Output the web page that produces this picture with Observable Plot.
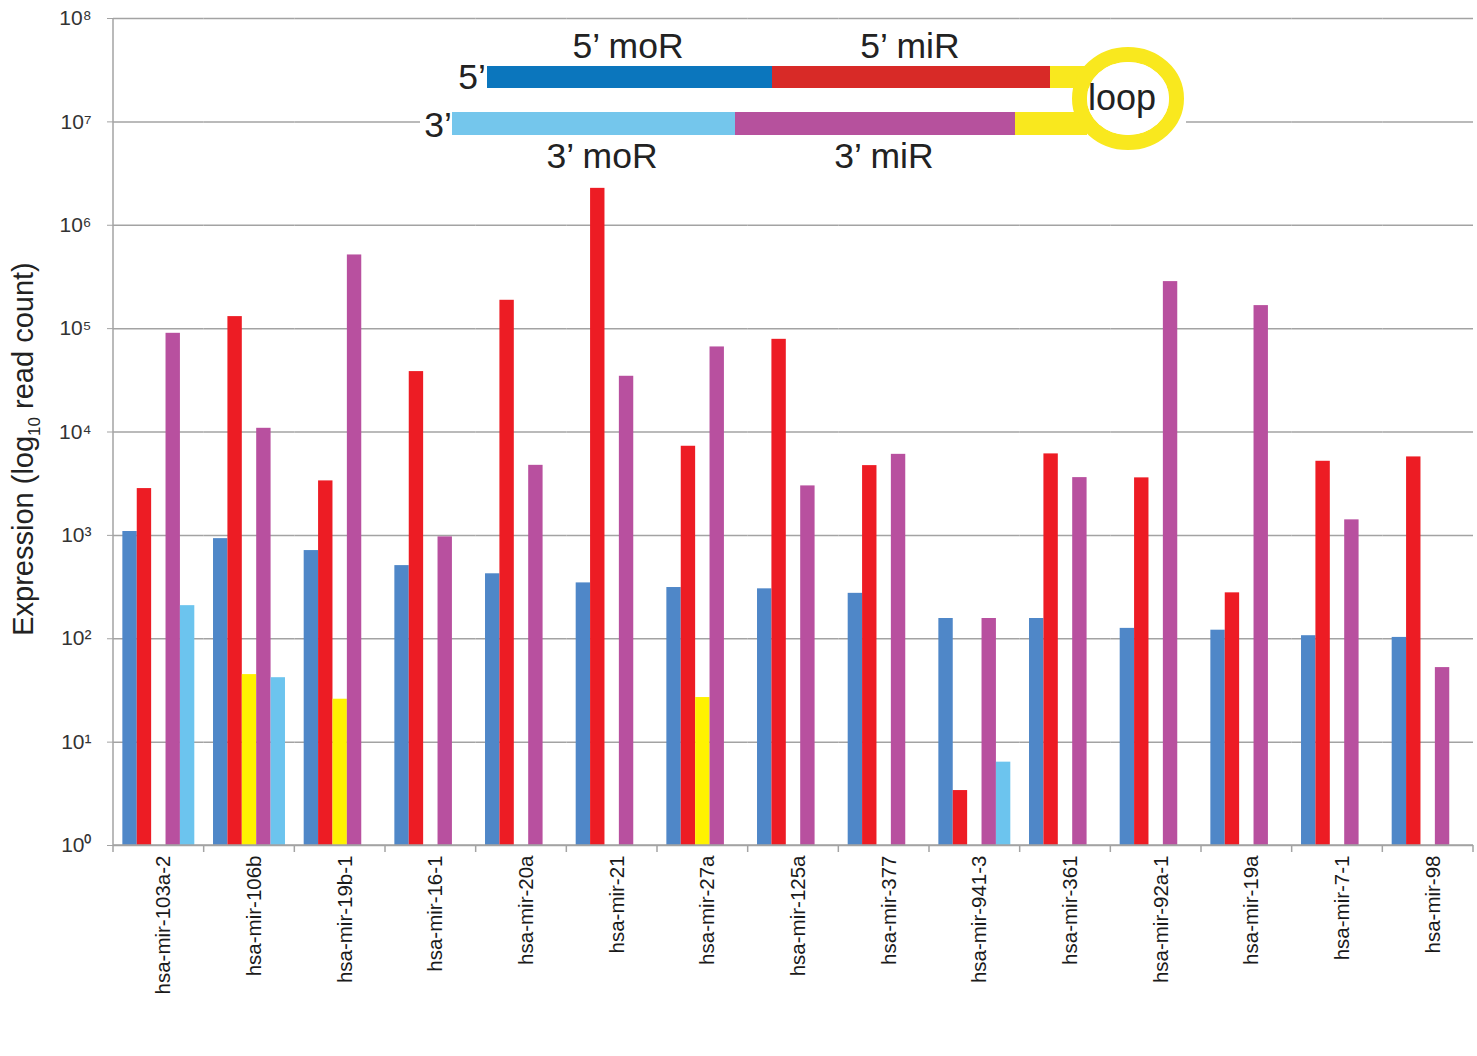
<!DOCTYPE html>
<html>
<head>
<meta charset="utf-8">
<script src="https://cdn.jsdelivr.net/npm/d3@7"></script>
<script src="https://cdn.jsdelivr.net/npm/@observablehq/plot@0.6"></script>
<style>
  html, body { margin: 0; padding: 0; background: #fff; }
  #chart { position: relative; width: 1477px; height: 1056px; }
</style>
</head>
<body>
<div id="chart"></div>
<script>
const mirnas = ["hsa-mir-103a-2","hsa-mir-106b","hsa-mir-19b-1","hsa-mir-16-1","hsa-mir-20a","hsa-mir-21","hsa-mir-27a","hsa-mir-125a","hsa-mir-377","hsa-mir-941-3","hsa-mir-361","hsa-mir-92a-1","hsa-mir-19a","hsa-mir-7-1","hsa-mir-98"];
const seriesNames = ["5\u2019 moR","5\u2019 miR","loop","3\u2019 miR","3\u2019 moR"];
const seriesColors = ["#4f87c8","#ed1c24","#fff200","#b8509f","#6cc4ee"];
const moR5 = [1090, 930, 713, 510, 425, 347, 313, 304, 275, 157, 157, 126, 121, 107, 103];
const miR5 = [2836, 130700, 3365, 38400, 188000, 2275000, 7280, 78800, 4730, 3.4, 6140, 3600, 278, 5210, 5740];
const loopVals = [null, 45, 26, null, null, null, 27, null, null, null, null, null, null, null, null];
const miR3 = [90100, 10860, 516000, 967, 4760, 34600, 66500, 3010, 6080, 157, 3620, 285000, 167000, 1413, 52.6];
const moR3 = [209, 42, null, null, null, null, null, null, null, 6.4, null, null, null, null, null];
const yTicks = [1, 10, 100, 1e3, 1e4, 1e5, 1e6, 1e7, 1e8];
const supers = ["\u2070","\u00b9","\u00b2","\u00b3","\u2074","\u2075","\u2076","\u2077","\u2078"];

const seriesValues = [moR5, miR5, loopVals, miR3, moR3];
const rows = [];
mirnas.forEach((m, i) => {
  seriesNames.forEach((s, j) => {
    const v = seriesValues[j][i];
    if (v != null) rows.push({mirna: m, series: s, value: v});
  });
});

const FONT = "'Liberation Sans', Arial, Helvetica, sans-serif";
const gridColor = "#a3a3a3";

const plot = Plot.plot({
  width: 1477,
  height: 1056,
  marginTop: 18,
  marginBottom: 211,
  marginLeft: 113,
  marginRight: 4,
  style: {fontFamily: FONT, background: "#fff", color: "#222"},
  fx: {domain: mirnas, padding: 0, round: false, label: null},
  x: {domain: seriesNames, paddingInner: 0, paddingOuter: 0.65, round: false, axis: null},
  y: {type: "log", domain: [1, 1e8], axis: null},
  color: {domain: seriesNames, range: seriesColors},
  marks: [
    Plot.ruleY(yTicks, {y: d => d, stroke: gridColor, strokeWidth: 1.5}),
    Plot.barY(rows, {fx: "mirna", x: "series", y1: () => 1, y2: "value", fill: "series"}),
    Plot.axisFx({anchor: "bottom", tickRotate: -90, tickSize: 0, tickPadding: 10, fontSize: 20.5, label: null, fill: "#1a1a1a", dx: 5}),
    Plot.axisY({ticks: yTicks, tickFormat: d => "10" + supers[Math.round(Math.log10(d))], tickSize: 6, tickPadding: 16, fontSize: 21, label: null, stroke: gridColor, fill: "#333"})
  ]
});

document.getElementById("chart").appendChild(plot);

const svg = d3.select(plot);
const xs = plot.scale("fx");
const ys = plot.scale("y");
const y0 = ys.apply(1), yTop = ys.apply(1e8);
const left = xs.apply(mirnas[0]);
const step = xs.step || xs.bandwidth;
const right = left + step * mirnas.length;

const ax = svg.append("g").attr("stroke", gridColor).attr("stroke-width", 1.5);
ax.append("line").attr("x1", left).attr("x2", left).attr("y1", yTop).attr("y2", y0);
ax.append("line").attr("x1", left).attr("x2", right).attr("y1", y0).attr("y2", y0);
for (let i = 0; i <= mirnas.length; i++) {
  const xx = left + step * i;
  ax.append("line").attr("x1", xx).attr("x2", xx).attr("y1", y0).attr("y2", y0 + 7);
}

// y axis title with subscript
const t = svg.append("text")
  .attr("transform", `translate(33, 449) rotate(-90)`)
  .attr("text-anchor", "middle")
  .attr("font-family", FONT)
  .attr("font-size", 29)
  .attr("fill", "#222");
t.append("tspan").text("Expression (log");
t.append("tspan").attr("font-size", 17).attr("dy", 7).text("10");
t.append("tspan").attr("dy", -7).text(" read count)");

// Inset schematic of the hairpin
const g = svg.append("g").attr("font-family", FONT).attr("fill", "#222");
g.append("rect").attr("x", 420).attr("y", 28).attr("width", 766).attr("height", 146).attr("fill", "#fff");
const dBlue = "#0b76bd", dRed = "#d82a27", dYel = "#f9e81e", dLBlue = "#74c6ec", dPurp = "#b6519d";
// top strand
g.append("rect").attr("x", 487).attr("y", 66).attr("width", 285).attr("height", 22).attr("fill", dBlue);
g.append("rect").attr("x", 772).attr("y", 66).attr("width", 278).attr("height", 22).attr("fill", dRed);
g.append("rect").attr("x", 1050).attr("y", 66).attr("width", 40).attr("height", 22).attr("fill", dYel);
// bottom strand
g.append("rect").attr("x", 452).attr("y", 112).attr("width", 283).attr("height", 23).attr("fill", dLBlue);
g.append("rect").attr("x", 735).attr("y", 112).attr("width", 280).attr("height", 23).attr("fill", dPurp);
g.append("rect").attr("x", 1015).attr("y", 112).attr("width", 72).attr("height", 23).attr("fill", dYel);
// loop ring
g.append("ellipse").attr("cx", 1128).attr("cy", 98.5).attr("rx", 48.5).attr("ry", 44).attr("fill", "none").attr("stroke", dYel).attr("stroke-width", 15);
g.append("ellipse").attr("cx", 1128).attr("cy", 98.5).attr("rx", 41).attr("ry", 36.5).attr("fill", "#fff");

const lbl = (x, y, s, anchor, size) => g.append("text").attr("x", x).attr("y", y).attr("text-anchor", anchor || "middle").attr("font-size", size || 35.5).text(s);
lbl(628, 58, "5\u2019 moR");
lbl(910, 58, "5\u2019 miR");
lbl(602, 168, "3\u2019 moR");
lbl(884, 168, "3\u2019 miR");
lbl(486, 89, "5\u2019", "end");
lbl(452, 137, "3\u2019", "end");
lbl(1122, 110, "loop", "middle", 36);
</script>
</body>
</html>
